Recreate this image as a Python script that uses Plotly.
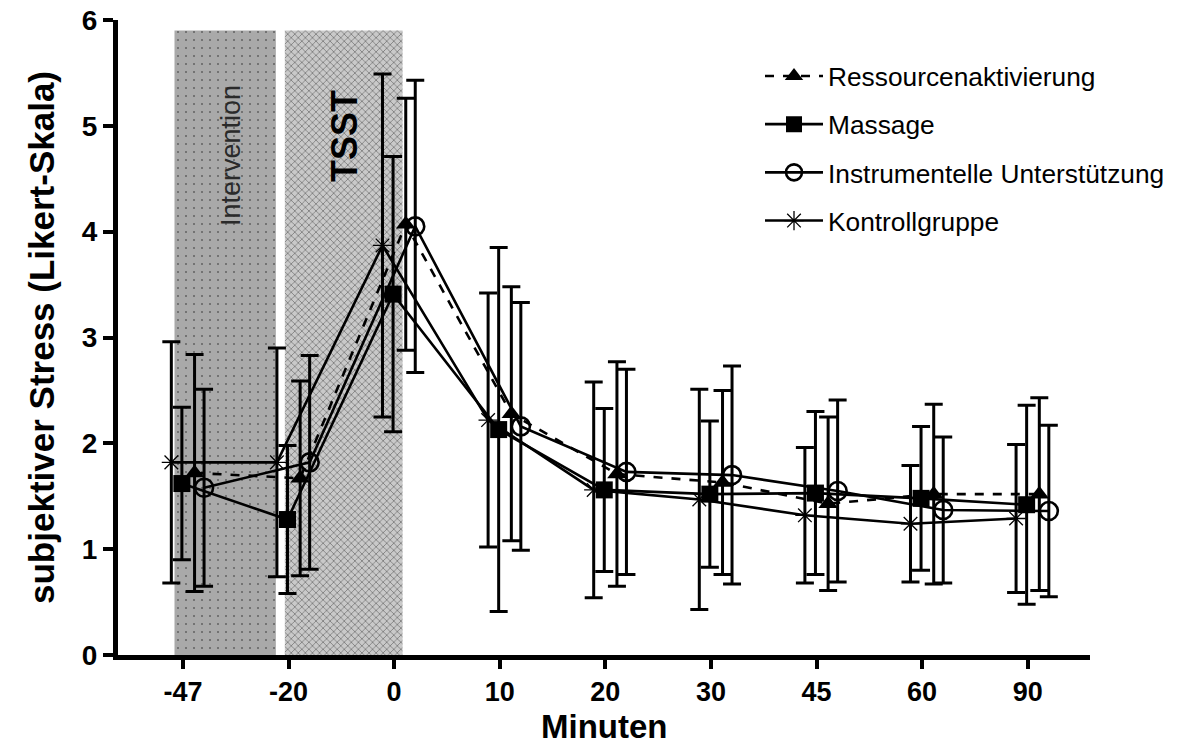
import plotly.graph_objects as go

# Measurement time points (minutes relative to TSST end)
time_labels = ["-47", "-20", "0", "10", "20", "30", "45", "60", "90"]

# Mean subjective stress (Likert scale) and standard deviations per group
ressource_mean = [1.72, 1.67, 4.07, 2.28, 1.71, 1.63, 1.43, 1.52, 1.52]
ressource_sd = [1.12, 0.92, 1.19, 1.20, 1.06, 0.87, 0.82, 0.85, 0.91]

massage_mean = [1.62, 1.28, 3.41, 2.13, 1.56, 1.52, 1.53, 1.48, 1.42]
massage_sd = [0.72, 0.70, 1.30, 1.72, 0.77, 0.69, 0.77, 0.68, 0.94]

instrument_mean = [1.58, 1.82, 4.05, 2.16, 1.73, 1.70, 1.55, 1.37, 1.36]
instrument_sd = [0.93, 1.01, 1.38, 1.17, 0.97, 1.03, 0.86, 0.69, 0.81]

kontroll_mean = [1.82, 1.82, 3.87, 2.22, 1.56, 1.47, 1.32, 1.24, 1.29]
kontroll_sd = [1.14, 1.08, 1.62, 1.20, 1.02, 1.04, 0.64, 0.55, 0.70]

# Phase bands on the category axis (category index units) and their top
intervention_span = (-0.08, 0.88)
tsst_span = (0.965, 2.08)
band_top = 5.9

FONT = "Liberation Sans, Arial, sans-serif"

idx = list(range(len(time_labels)))


def shifted(offset):
    return [i + offset for i in idx]


fig = go.Figure()


def band(span, bg, fg, shape, size, solidity):
    x0, x1 = span
    fig.add_trace(go.Scatter(
        x=[x0, x1, x1, x0, x0], y=[0, 0, band_top, band_top, 0],
        mode="lines", fill="toself", line=dict(width=0),
        fillcolor=bg,
        fillpattern=dict(shape=shape, bgcolor=bg, fgcolor=fg,
                         size=size, solidity=solidity),
        hoverinfo="skip", showlegend=False))


band(intervention_span, "#a9a9a9", "#1a1a1a", ".", 8, 0.05)
band(tsst_span, "#c9c9c9", "#303030", "x", 5, 0.3)


def err(sd):
    return dict(type="data", array=sd, visible=True, color="black",
                thickness=3, width=9)


series = [
    ("Kontrollgruppe", kontroll_mean, kontroll_sd, -0.11,
     dict(symbol="asterisk-open", size=16, color="black",
          line=dict(width=1.3, color="black")), "solid", 4),
    ("Massage", massage_mean, massage_sd, -0.01,
     dict(symbol="square", size=17, color="black",
          line=dict(width=0)), "solid", 2),
    ("Ressourcenaktivierung", ressource_mean, ressource_sd, 0.11,
     dict(symbol="triangle-up", size=17, color="black",
          line=dict(width=0)), "dash", 1),
    ("Instrumentelle Unterstützung", instrument_mean, instrument_sd, 0.2,
     dict(symbol="circle-open", size=18, color="black",
          line=dict(width=2.6, color="black")), "solid", 3),
]

for name, mean, sd, off, marker, dash, rank in series:
    fig.add_trace(go.Scatter(
        x=shifted(off), y=mean, name=name, mode="lines+markers",
        line=dict(color="black", width=2.6, dash=dash),
        marker=marker, error_y=err(sd), legendrank=rank,
        legendgroup=name))

# Band labels
fig.add_annotation(x=0.46, y=4.72, xref="x", yref="y", text="Intervention",
                   textangle=-90, showarrow=False,
                   font=dict(family=FONT, size=27, color="#2a2a2a"))
fig.add_annotation(x=1.53, y=4.9, xref="x", yref="y", text="<b>TSST</b>",
                   textangle=-90, showarrow=False,
                   font=dict(family=FONT, size=36, color="black"))

# x-axis title placed beneath the tick labels
fig.add_annotation(x=0.5, y=-0.113, xref="paper", yref="paper",
                   text="<b>Minuten</b>", showarrow=False,
                   xanchor="center", yanchor="middle",
                   font=dict(family=FONT, size=33, color="black"))

fig.update_layout(
    width=1177, height=751,
    margin=dict(l=118, r=87, t=20, b=96, autoexpand=False),
    plot_bgcolor="white", paper_bgcolor="white",
    font=dict(family=FONT, color="black"),
    legend=dict(x=0.6605, y=0.949, xanchor="left", yanchor="top",
                font=dict(family=FONT, size=26.3, color="black"),
                bgcolor="rgba(0,0,0,0)", tracegroupgap=11,
                itemwidth=58),
    xaxis=dict(
        range=[-0.615, 8.59], tickmode="array", tickvals=idx,
        ticktext=[f"<b>{t}</b>" for t in time_labels],
        tickfont=dict(family=FONT, size=27),
        ticks="outside", ticklen=9, tickwidth=4, tickcolor="black",
        showline=True, linecolor="black", linewidth=5,
        showgrid=False, zeroline=False, automargin=False),
    yaxis=dict(
        range=[0, 6], tickmode="array", tickvals=[0, 1, 2, 3, 4, 5, 6],
        ticktext=[f"<b>{v}</b>" for v in range(7)],
        tickfont=dict(family=FONT, size=28),
        ticks="outside", ticklen=10, tickwidth=4, tickcolor="black",
        showline=True, linecolor="black", linewidth=5,
        showgrid=False, zeroline=False, automargin=False,
        title=dict(text="<b>subjektiver Stress (Likert-Skala)</b>",
                   font=dict(family=FONT, size=35), standoff=18)),
)

fig.write_html("out.html")
